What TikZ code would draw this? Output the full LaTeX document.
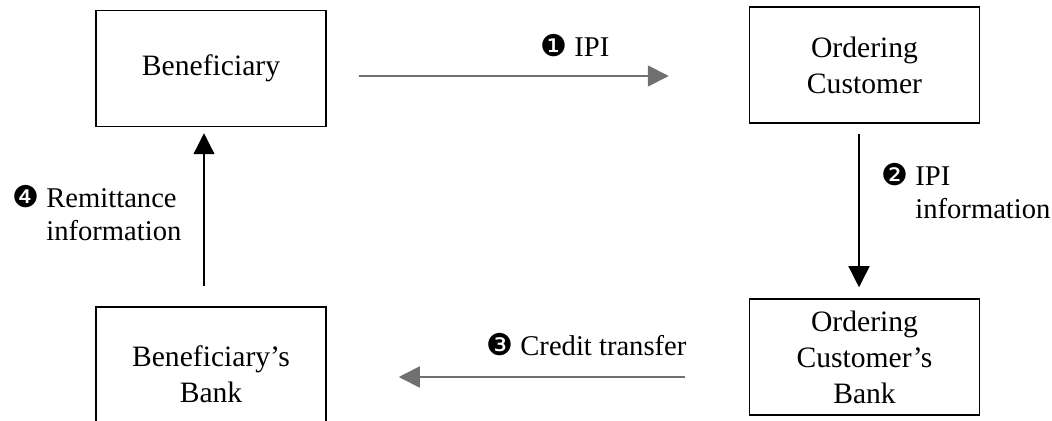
\documentclass[tikz,border=0pt]{standalone}
\usepackage{fontspec}
\setmainfont{Liberation Serif}
\newfontfamily\dingfont{DejaVu Sans}
\usetikzlibrary{arrows.meta}
\definecolor{flowgray}{RGB}{112,112,112}
\tikzstyle{party} = [align=center,draw=black,rectangle,line width=0.75pt,minimum width=115pt,minimum height=58pt,inner sep=0pt,font=\fontsize{14.8}{18}\selectfont]
\tikzstyle{info} = [align=left,inner sep=0pt,anchor=west,font=\fontsize{14.3}{16.5}\selectfont]
\tikzstyle{flow} = [-{Triangle[length=10.5pt,width=10.5pt]},line width=0.65pt]
\tikzstyle{grayflow} = [flow,draw=flowgray,line width=0.9pt]
\newcommand{\stepno}[1]{\makebox[17pt][l]{\dingfont\fontsize{15}{15}\selectfont #1}}

\begin{document}
\begin{tikzpicture}[x=0.5pt,y=-0.5pt]
				\useasboundingbox (0,0) rectangle (1052,421);
				\clip (0,0) rectangle (1052,421);
				\node (ben) [party] at (211,68.5) {Beneficiary};
				\node (oc) [party] at (864.5,65) {Ordering\\Customer};
				\node (ocb) [party] at (864.5,357) {Ordering\\Customer’s\\Bank};
				\node (bb) [party,minimum height=67pt] at (211,374) {Beneficiary’s\\Bank};
				\node (ipi) [info] at (540,46) {\stepno{❶}IPI};
				\node (ipiinfo) [info] at (881,191) {\stepno{❷}IPI\\\hspace*{17pt}information};
				\node (credit) [info] at (486,345) {\stepno{❸}Credit transfer};
				\node (remit) [info] at (12,213) {\stepno{❹}Remittance\\\hspace*{17pt}information};
				\draw [grayflow,shorten <=16pt,shorten >=40pt] ([yshift=-3.75pt]ben.east) -- ([yshift=-5.5pt]oc.west);
				\draw [flow,shorten <=5pt,shorten >=5.5pt] ([xshift=-2.75pt]oc.south) -- ([xshift=-2.75pt]ocb.north);
				\draw [grayflow,shorten <=32pt,shorten >=36pt] ([yshift=-10pt]ocb.west) -- ([yshift=-1.5pt]bb.east);
				\draw [flow,shorten <=10pt,shorten >=3pt] ([xshift=-3.5pt]bb.north) -- ([xshift=-3.5pt]ben.south);
			\end{tikzpicture}
\end{document}
